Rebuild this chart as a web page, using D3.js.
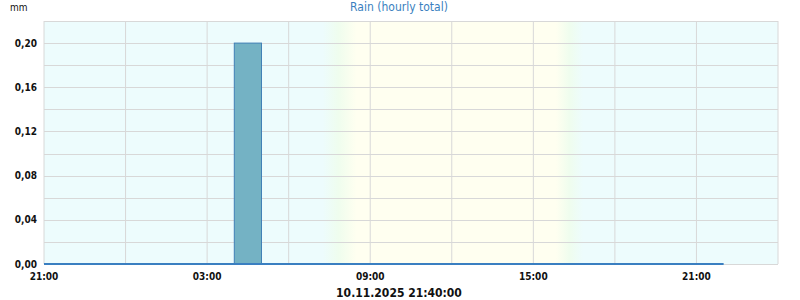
<!DOCTYPE html>
<html>
<head>
<meta charset="utf-8">
<script src="https://cdn.jsdelivr.net/npm/d3@7"></script>
<style>
    body { margin: 0; background: #fff; }
    svg text { font-family: "DejaVu Sans Condensed", "DejaVu Sans", sans-serif; }
</style>
</head>
<body>
<script>
// hourly buckets (start of hour) and rain totals in mm
var hours = [
    "2025-11-09 21:00", "2025-11-09 22:00", "2025-11-09 23:00",
    "2025-11-10 00:00", "2025-11-10 01:00", "2025-11-10 02:00",
    "2025-11-10 03:00", "2025-11-10 04:00", "2025-11-10 05:00",
    "2025-11-10 06:00", "2025-11-10 07:00", "2025-11-10 08:00",
    "2025-11-10 09:00", "2025-11-10 10:00", "2025-11-10 11:00",
    "2025-11-10 12:00", "2025-11-10 13:00", "2025-11-10 14:00",
    "2025-11-10 15:00", "2025-11-10 16:00", "2025-11-10 17:00",
    "2025-11-10 18:00", "2025-11-10 19:00", "2025-11-10 20:00",
    "2025-11-10 21:00"
];
var rain = [0, 0, 0, 0, 0, 0, 0, 0.20, 0, 0, 0, 0, 0, 0, 0, 0, 0, 0, 0, 0, 0, 0, 0, 0, 0];

var xRange = ["2025-11-09 21:00", "2025-11-11 00:00"];
var xLabelTimes = ["2025-11-09 21:00", "2025-11-10 03:00", "2025-11-10 09:00",
    "2025-11-10 15:00", "2025-11-10 21:00"];
var yTicks = [0, 0.04, 0.08, 0.12, 0.16, 0.20];
var yMax = 0.22;

// dawn / dusk shading (start, middle, end)
var dawn = ["2025-11-10 07:15", "2025-11-10 07:50", "2025-11-10 08:30"];
var dusk = ["2025-11-10 15:50", "2025-11-10 16:20", "2025-11-10 16:50"];

var title = "Rain (hourly total)";
var unit = "mm";
var stamp = "10.11.2025 21:40:00";

var width = 800,
    height = 300;
var margin = { top: 21, right: 22, bottom: 36, left: 44 };

var parse = d3.utcParse("%Y-%m-%d %H:%M");
var data = hours.map(function(h, i) {
    return { t: parse(h), v: rain[i] };
});

var x = d3.scaleUtc()
    .domain(xRange.map(parse))
    .range([margin.left, width - margin.right]);

var y = d3.scaleLinear()
    .domain([0, yMax])
    .range([height - margin.bottom, margin.top]);

var svg = d3.select("body").append("svg")
    .attr("width", width)
    .attr("height", height);

// background gradient night -> day -> night
var x0 = x.range()[0],
    x1 = x.range()[1];
function off(s) {
    return (x(parse(s)) - x0) / (x1 - x0);
}
var night = "#edfcfd",
    twilight = "#effdee",
    day = "#fffff0";
var stops = [
    [0, night],
    [off(dawn[0]), night], [off(dawn[1]), twilight], [off(dawn[2]), day],
    [off(dusk[0]), day], [off(dusk[1]), twilight], [off(dusk[2]), night],
    [1, night]
];
var grad = svg.append("defs").append("linearGradient")
    .attr("id", "bg")
    .attr("x1", "0").attr("x2", "1").attr("y1", "0").attr("y2", "0");
grad.selectAll("stop")
    .data(stops)
    .enter().append("stop")
    .attr("offset", function(d) { return d[0]; })
    .attr("stop-color", function(d) { return d[1]; });

svg.append("rect")
    .attr("x", x0)
    .attr("y", y(yMax))
    .attr("width", x1 - x0)
    .attr("height", y(0) - y(yMax))
    .style("fill", "url(#bg)");

// grid
var xGrid = x.ticks(d3.utcHour.every(3));
svg.append("g").selectAll("line")
    .data(xGrid)
    .enter().append("line")
    .attr("x1", function(d) { return x(d); })
    .attr("x2", function(d) { return x(d); })
    .attr("y1", y(yMax))
    .attr("y2", y(0))
    .style("stroke", "#d8d8d8")
    .style("stroke-width", 1);

var yGrid = d3.range(0, 12).map(function(i) { return i * 0.02; });
svg.append("g").selectAll("line")
    .data(yGrid)
    .enter().append("line")
    .attr("x1", x0)
    .attr("x2", x1)
    .attr("y1", function(d) { return Math.round(y(d)) + 0.5; })
    .attr("y2", function(d) { return Math.round(y(d)) + 0.5; })
    .style("stroke", "#d8d8d8")
    .style("stroke-width", 1);

// bars
var bars = data.filter(function(d) { return d.v > 0; });
svg.append("g").selectAll("rect")
    .data(bars)
    .enter().append("rect")
    .attr("x", function(d) { return x(d.t); })
    .attr("y", function(d) { return y(d.v); })
    .attr("width", function(d) { return x(d3.utcHour.offset(d.t, 1)) - x(d.t); })
    .attr("height", function(d) { return y(0) - y(d.v); })
    .style("fill", "#74b2c4")
    .style("stroke", "#3f7fb5")
    .style("stroke-width", 1);

// baseline of the series
var stepData = data.concat([{ t: d3.utcHour.offset(data[data.length - 1].t, 1), v: 0 }]);
var line = d3.line()
    .x(function(d) { return x(d.t); })
    .y(function(d) { return y(0); });
svg.append("path")
    .datum(stepData)
    .attr("d", line)
    .style("fill", "none")
    .style("stroke", "#3a7fc1")
    .style("stroke-width", 2);

// y labels
var fmt = function(d) { return d.toFixed(2).replace(".", ","); };
svg.append("g").selectAll("text")
    .data(yTicks)
    .enter().append("text")
    .attr("x", 37)
    .attr("y", function(d) { return y(d); })
    .attr("dy", "0.35em")
    .attr("text-anchor", "end")
    .style("font-size", "10px")
    .style("font-weight", "bold")
    .style("fill", "#111")
    .text(fmt);

// x labels
svg.append("g").selectAll("text")
    .data(xLabelTimes.map(parse))
    .enter().append("text")
    .attr("x", function(d) { return x(d); })
    .attr("y", 276)
    .attr("dy", "0.35em")
    .attr("text-anchor", "middle")
    .style("font-size", "10px")
    .style("font-weight", "bold")
    .style("fill", "#111")
    .text(d3.utcFormat("%H:%M"));

svg.append("text")
    .attr("x", 10)
    .attr("y", 7)
    .attr("dy", "0.35em")
    .style("font-size", "10px")
    .style("fill", "#111")
    .text(unit);

svg.append("text")
    .attr("x", 399)
    .attr("y", 7)
    .attr("dy", "0.35em")
    .attr("text-anchor", "middle")
    .style("font-size", "12px")
    .style("fill", "#3a7fc0")
    .text(title);

svg.append("text")
    .attr("x", 399)
    .attr("y", 293)
    .attr("dy", "0.35em")
    .attr("text-anchor", "middle")
    .style("font-size", "12px")
    .style("font-weight", "bold")
    .style("fill", "#111")
    .text(stamp);
</script>
</body>
</html>
